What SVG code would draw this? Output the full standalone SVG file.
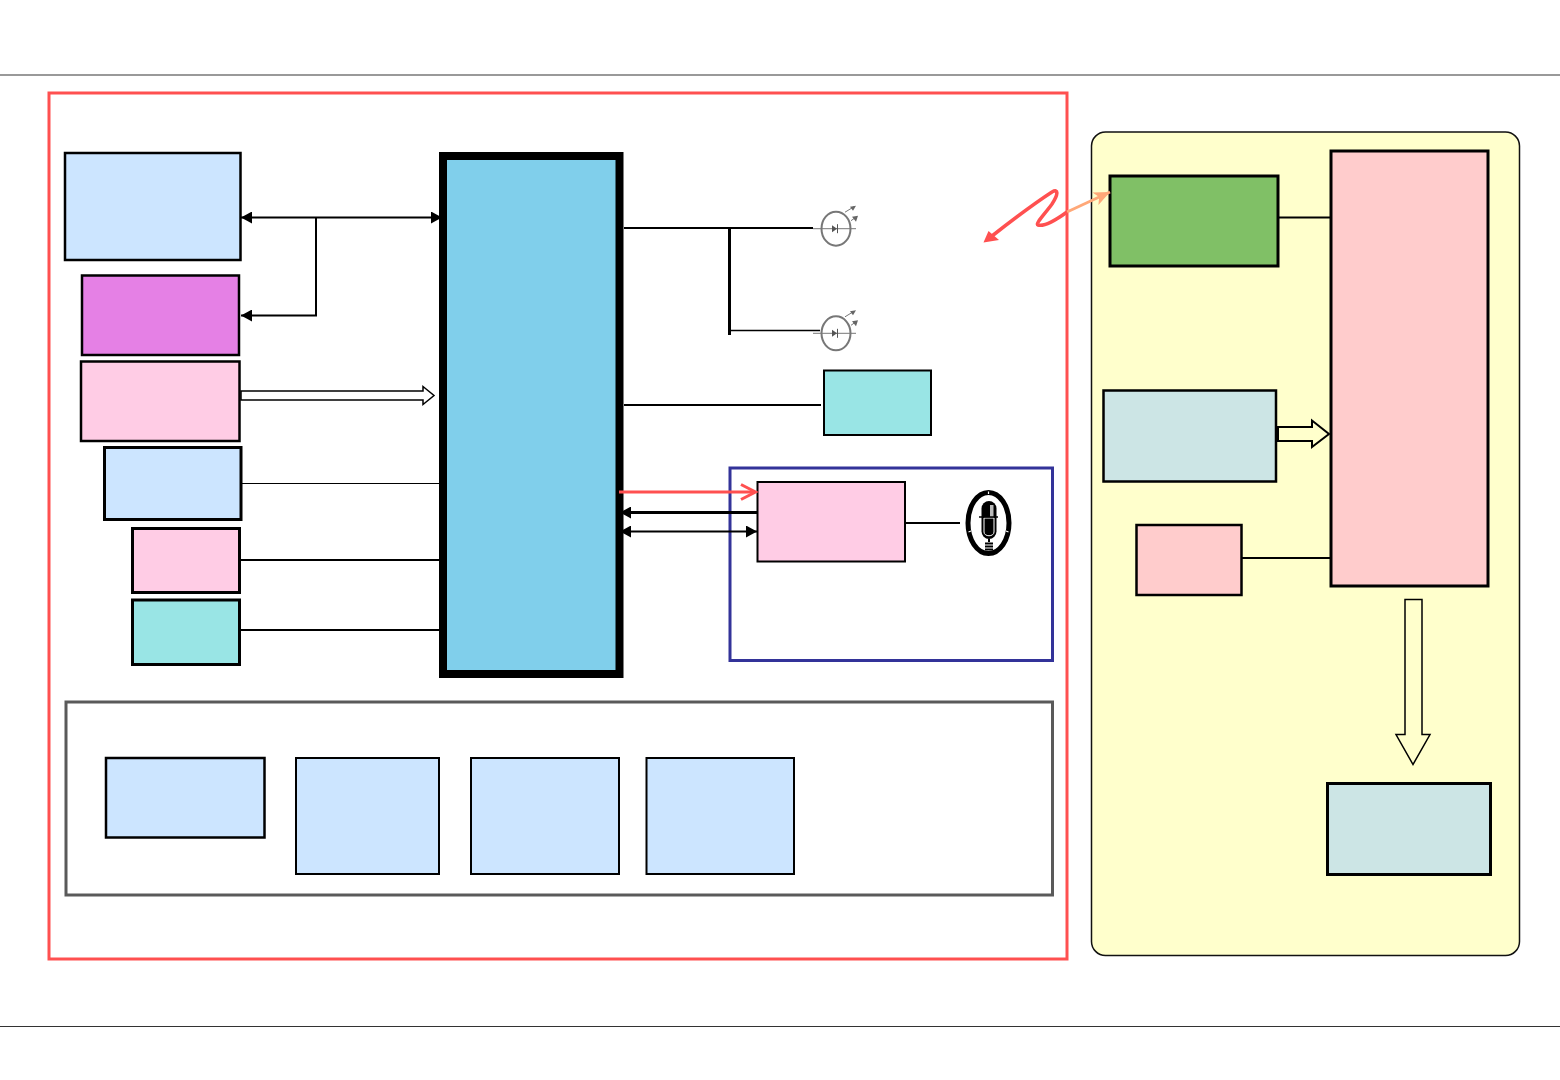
<svg xmlns="http://www.w3.org/2000/svg" width="1560" height="1080" viewBox="0 0 1560 1080">
<style>
.n{stroke:#000;stroke-width:2}
.m{stroke:#000;stroke-width:2.500}
.t{stroke:#000;stroke-width:3}
.l{stroke:#000;stroke-width:2;fill:none}
.h{fill:#fff;stroke:#000;stroke-width:1.500}
.g{stroke:#777;fill:none}
</style>
<defs>
<marker id="a" markerUnits="userSpaceOnUse" markerWidth="12" markerHeight="12" refX="11" refY="6" orient="auto-start-reverse"><path d="M0 0L11 6L0 12z" fill="#000"/></marker>
<marker id="o" markerUnits="userSpaceOnUse" markerWidth="18" markerHeight="16" refX="17" refY="8" orient="auto"><path d="M1 1L17 8L1 15L5 8z" fill="#ffa878"/></marker>
<g id="led"><ellipse cx="0" cy="0" rx="14.500" ry="17" class="g" stroke-width="2"/><path d="M-23 0H20" stroke="#777" fill="none"/><path d="M-4 -3.500L1 0L-4 3.500z" fill="#555"/><path d="M1.500 -4.500V4.500" stroke="#555" fill="none"/><path d="M9 -16.500L18 -22M15 -8L20 -11.500" stroke="#777" fill="none"/><path d="M14 -22L20 -23L17 -18zM16 -12L22 -13L20 -7z" fill="#666"/></g>
</defs>
<rect width="1560" height="1080" fill="#fff"/>
<path d="M0 75H1560" stroke="#777" stroke-width="1.500"/>
<path d="M0 1026.500H1560" stroke="#333"/>
<g id="outer"><rect x="49" y="93" width="1018" height="866" fill="#fff" stroke="#ff5050" stroke-width="3"/></g>
<g id="right-panel"><rect x="1091.500" y="132" width="428" height="823.500" rx="14" fill="#ffffcc" stroke="#111" stroke-width="1.500"/></g>
<g id="mic-panel"><rect x="730" y="468" width="322.500" height="192.500" fill="none" stroke="#333399" stroke-width="3"/></g>
<g id="bottom-panel"><rect x="66" y="702" width="986.500" height="193" fill="#fff" stroke="#5a5a5a" stroke-width="3"/></g>
<g id="n1"><rect x="65" y="153" width="175.500" height="107" class="m" fill="#cce5ff"/></g>
<g id="n2"><rect x="82" y="275.500" width="157" height="79.500" class="m" fill="#e580e5"/></g>
<g id="n3"><rect x="81" y="361.500" width="158.500" height="79.500" class="m" fill="#ffcce5"/></g>
<g id="n4"><rect x="104.500" y="447.500" width="136.500" height="72" class="t" fill="#cce5ff"/></g>
<g id="n5"><rect x="132.500" y="528.500" width="107" height="64" class="t" fill="#ffcce5"/></g>
<g id="n6"><rect x="132.500" y="600" width="107" height="64.500" class="t" fill="#99e5e5"/></g>
<g id="cpu"><rect x="443" y="156" width="176.500" height="518" fill="#80cfeb" stroke="#000" stroke-width="8"/></g>
<g id="led1"><use href="#led" x="836" y="228.700"/></g>
<g id="led2"><use href="#led" x="836" y="333.300"/></g>
<g id="n7"><rect x="824" y="370.500" width="107" height="64.500" class="n" fill="#99e5e5"/></g>
<g id="n8"><rect x="757.500" y="482" width="147.500" height="79.500" class="n" fill="#ffcce5"/></g>
<g id="mic">
<ellipse cx="988.500" cy="523" rx="20.500" ry="30.500" fill="#fff" stroke="#000" stroke-width="5"/>
<path d="M988.500 491.500V494M968.500 532L971 531M1008.500 532L1006 531" stroke="#fff" stroke-width="1.200"/>
<rect x="981.500" y="501" width="15" height="38" rx="7.500" fill="#000"/>
<rect x="990" y="505" width="3.500" height="12" fill="#bbb"/>
<path d="M984 518H994V532C994 537 984 537 984 532z" fill="#000" stroke="#fff" stroke-width="1"/>
<path d="M979 517H998" stroke="#000" stroke-width="1.500"/>
<path d="M989 539V542" stroke="#000" stroke-width="2"/>
<path d="M985 543.500H993M985 546.500H993M985 549.500H993" stroke="#000" stroke-width="1.800"/>
</g>
<g id="n9"><rect x="106" y="758" width="158.500" height="79.500" class="m" fill="#cce5ff"/></g>
<g id="n10"><rect x="296" y="758" width="143" height="116" class="n" fill="#cce5ff"/></g>
<g id="n11"><rect x="471" y="758" width="148" height="116" class="n" fill="#cce5ff"/></g>
<g id="n12"><rect x="646.500" y="758" width="147.500" height="116" class="n" fill="#cce5ff"/></g>
<g id="n13"><rect x="1110" y="176" width="168" height="90" class="t" fill="#80c066"/></g>
<g id="n14"><rect x="1331" y="151" width="157" height="435" class="t" fill="#ffcccc"/></g>
<g id="n15"><rect x="1103.500" y="390.500" width="172.500" height="91" class="m" fill="#cce5e5"/></g>
<g id="n16"><rect x="1136.500" y="525" width="105" height="70" class="m" fill="#ffcccc"/></g>
<g id="n17"><rect x="1327.500" y="783.500" width="163" height="91" class="t" fill="#cce5e5"/></g>
<g id="connectors">
<path d="M241 217.500H442" class="l" marker-start="url(#a)" marker-end="url(#a)"/>
<path d="M316 218V315.500H241" class="l" marker-end="url(#a)"/>
<path d="M241 391H423V386.500L434 395.500L423 404.500V400H241z" class="h"/>
<path d="M241 483.500H440" stroke="#000" stroke-width="1.200"/>
<path d="M241 560H440M241 630H440" class="l"/>
<path d="M624 228H813M624 405H821" class="l"/>
<path d="M729.500 228V335" stroke="#000" stroke-width="3"/>
<path d="M731 330.500H820" stroke="#000" stroke-width="1.500"/>
<path d="M757 512.500H620" stroke="#000" stroke-width="3" marker-end="url(#a)"/>
<path d="M620 531.500H757" class="l" marker-start="url(#a)" marker-end="url(#a)"/>
<path d="M619 492H755" stroke="#ff5050" stroke-width="3"/>
<path d="M741 484.500L755.500 492L741 499.500" stroke="#ff5050" stroke-width="3" fill="none"/>
<path d="M906 523H960" class="l"/>
<path d="M1279 217.500H1331M1242 558H1331" class="l"/>
<path d="M1278 427H1312V420.500L1329 434L1312 447V441H1278z" fill="#ffffcc" stroke="#000" stroke-width="2"/>
<path d="M1405 599.500H1422V734.500H1430L1413 764.500L1396 734.500H1405z" fill="#ffffcc" stroke="#000" stroke-width="1.500"/>
<path d="M1067 212L1110 192" stroke="#ffa878" stroke-width="3" fill="none" marker-end="url(#o)"/>
<path d="M992 236C1015 218 1035 203 1052 192C1059 188 1058 195 1052 204C1044 215 1035 224 1038 225C1045 227 1056 220 1067 212" stroke="#ff5050" stroke-width="3.500" fill="none"/>
<path d="M983.500 242.500L988.500 231L999 240z" fill="#ff5050"/>
</g>
</svg>
